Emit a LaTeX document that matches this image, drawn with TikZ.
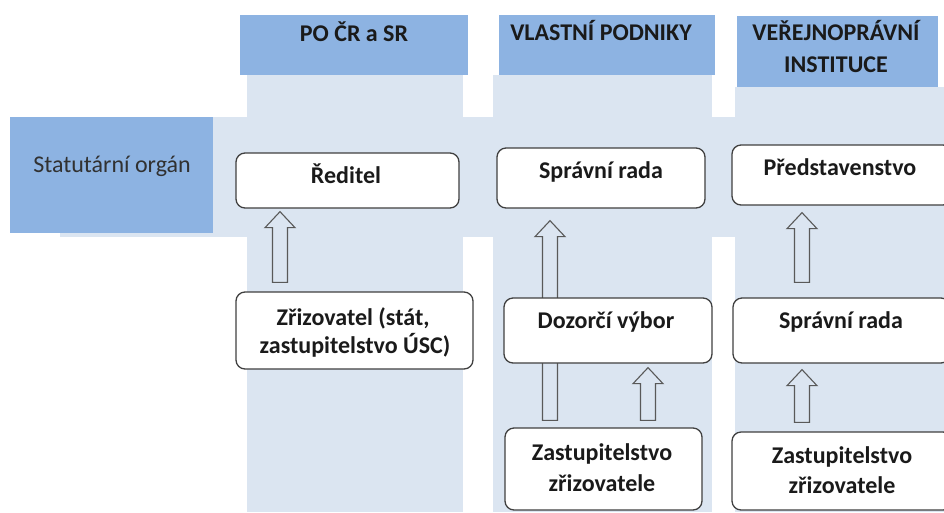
\documentclass[tikz,border=0pt]{standalone}
\usepackage{fontspec}
\setmainfont{Carlito}
\usetikzlibrary{calc}
\definecolor{hdr}{HTML}{8DB3E2}
\definecolor{pale}{HTML}{DBE5F1}
\definecolor{edge}{HTML}{404040}
\definecolor{ink}{HTML}{1A1A1A}
\definecolor{arrowedge}{HTML}{595959}
\pgfdeclarelayer{back}
\pgfdeclarelayer{arrowlayer}
\pgfsetlayers{back,arrowlayer,main}

% hollow upward block arrow: #1 x position, #2 lower node, #3 upper node,
% #4 gap above the lower node, #5 gap below the upper node
\newcommand\blockup[5]{%
  \draw[blockarrow] let \p1=(#2.north), \p2=(#3.south) in
    ({#1pt-7.5pt},{\y1+#4pt}) -- ({#1pt-7.5pt},{\y2-#5pt-16pt})
    -- ({#1pt-15pt},{\y2-#5pt-16pt}) -- ({#1pt},{\y2-#5pt})
    -- ({#1pt+15pt},{\y2-#5pt-16pt}) -- ({#1pt+7.5pt},{\y2-#5pt-16pt})
    -- ({#1pt+7.5pt},{\y1+#4pt}) -- cycle;
}

\begin{document}
\begin{tikzpicture}[x=1pt,y=-1pt,
  box/.style={draw=edge, line width=1.3pt, fill=white, rounded corners=9pt,
    inner sep=0pt},
  lbl/.style={font=\fontsize{24}{30}\selectfont\bfseries, text=ink,
    anchor=base, inner sep=0pt},
  plain/.style={font=\fontsize{24}{30}\selectfont, text=ink!90,
    anchor=base, inner sep=0pt},
  blockarrow/.style={draw=arrowedge, line width=1.1pt, fill=pale,
    line join=miter}]
\useasboundingbox (0,0) rectangle (944,512);
\clip (0,0) rectangle (944,512);

% light column and row backgrounds, header blocks
\begin{pgfonlayer}{back}
  \fill[pale] (247,75) rectangle (463,512);
  \fill[pale] (493,75) rectangle (712,512);
  \fill[pale] (735,87) rectangle (944,512);
  \fill[pale] (60,117) rectangle (944,237);
  \fill[hdr] (240,15) rectangle (468,75);
  \fill[hdr] (499,15) rectangle (715,75);
  \fill[hdr] (737,16) rectangle (938,87);
  \fill[hdr] (10,117) rectangle (213,233);
\end{pgfonlayer}

% header and row titles
\node[lbl] (t1) at (354,41) {PO ČR a SR};
\node[lbl] (t2) at (601,40) {VLASTNÍ PODNIKY};
\node[lbl] (t3a) at (836,40) {VEŘEJNOPRÁVNÍ};
\node[lbl] (t3b) at (836,72) {INSTITUCE};
\node[plain] (stat) at (112,172) {Statutární orgán};

% organ boxes
\node[box, minimum width=223pt, minimum height=55pt] (red) at (347.5,180.5) {};
\node[box, minimum width=237pt, minimum height=77pt] (zriz) at (354.5,330.5) {};
\node[box, minimum width=208pt, minimum height=60pt] (spr2) at (601,178) {};
\node[box, minimum width=220pt, minimum height=60pt] (pred) at (842,175) {};
\node[box, minimum width=208pt, minimum height=65pt] (dozor) at (608,330.5) {};
\node[box, minimum width=197pt, minimum height=82pt] (zast2) at (603.5,469) {};
\node[box, minimum width=217pt, minimum height=65pt] (spr3) at (841.5,330.5) {};
\node[box, minimum width=220pt, minimum height=78pt] (zast3) at (842,471) {};

% box texts
\node[lbl] (redT) at (346,183) {Ředitel};
\node[lbl] (zrizT1) at (353,325) {Zřizovatel (stát,};
\node[lbl] (zrizT2) at (355,353) {zastupitelstvo ÚSC)};
\node[lbl] (spr2T) at (601,178) {Správní rada};
\node[lbl] (predT) at (840,175) {Představenstvo};
\node[lbl] (dozorT) at (606,328) {Dozorčí výbor};
\node[lbl] (spr3T) at (841,328) {Správní rada};
\node[lbl] (zast2T1) at (602,460) {Zastupitelstvo};
\node[lbl] (zast2T2) at (602,491) {zřizovatele};
\node[lbl] (zast3T1) at (842,463) {Zastupitelstvo};
\node[lbl] (zast3T2) at (842,493) {zřizovatele};

% hollow arrows between the organs
\begin{pgfonlayer}{arrowlayer}
  \blockup{280}{zriz}{red}{9}{3}
  \blockup{550}{zast2}{spr2}{7}{12}
  \blockup{648}{zast2}{dozor}{7}{4}
  \blockup{802}{spr3}{pred}{15}{7}
  \blockup{802}{zast3}{spr3}{9}{6}
\end{pgfonlayer}
\end{tikzpicture}
\end{document}
